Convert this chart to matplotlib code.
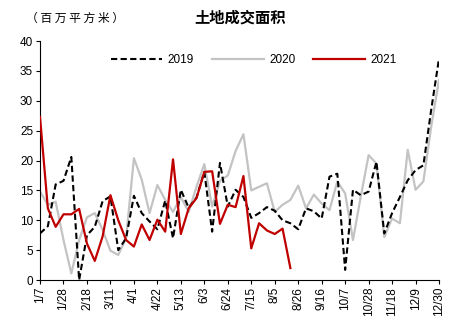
import numpy as np
import matplotlib
matplotlib.use('Agg')
import matplotlib.pyplot as plt

# weekly land transaction area (million m2)
tick_labels = ['1/7', '1/28', '2/18', '3/11', '4/1', '4/22', '5/13', '6/3', '6/24',
               '7/15', '8/5', '8/26', '9/16', '10/7', '10/28', '11/18', '12/9', '12/30']

y2019 = [7.8, 9.0, 16.0, 16.6, 20.6, 0.0, 7.5, 8.9, 13.2, 14.0,
         5.0, 7.0, 14.1, 11.2, 9.8, 8.5, 13.3, 7.0, 15.1, 12.1,
         13.8, 18.1, 8.1, 19.6, 12.3, 15.1, 13.9, 10.4, 11.2, 12.2,
         11.6, 10.0, 9.5, 8.5, 12.0, 11.5, 10.3, 17.3, 17.8, 1.7,
         15.1, 14.2, 14.8, 19.8, 7.8, 11.2, 13.9, 16.7, 18.4, 19.2,
         28.5, 37.1]

y2020 = [14.8, 12.6, 13.1, 6.7, 1.1, 6.7, 10.5, 11.2, 8.4, 4.9,
         4.2, 7.0, 20.4, 16.8, 11.2, 15.9, 13.4, 11.4, 13.9, 11.4,
         15.6, 19.4, 12.3, 16.6, 17.5, 21.6, 24.4, 15.0, 15.6, 16.2,
         11.4, 12.6, 13.4, 15.8, 12.0, 14.3, 12.8, 11.7, 16.5, 14.5,
         6.7, 14.0, 20.9, 19.5, 7.2, 10.3, 9.5, 21.8, 15.1, 16.5,
         25.7, 33.5]

y2021 = [27.3, 12.0, 8.9, 11.0, 11.0, 11.9, 6.1, 3.2, 7.3, 14.2,
         10.0, 6.7, 5.6, 9.3, 6.7, 10.1, 8.1, 20.2, 7.7, 12.0,
         13.7, 18.1, 18.2, 9.4, 12.6, 12.2, 17.4, 5.3, 9.5, 8.3,
         7.7, 8.6, 2.0]

plt.rcParams['font.family'] = ['Liberation Sans', 'Noto Sans CJK SC', 'DejaVu Sans']
plt.rcParams['font.size'] = 8.5

fig = plt.figure(figsize=(4.77, 3.31), dpi=100)
ax = fig.add_axes([0.0839, 0.154, 0.8365, 0.722])

ax.plot(np.arange(len(y2019)), y2019, color='black', lw=1.5,
        linestyle=(0, (3, 1.6)), label='2019', zorder=3)
ax.plot(np.arange(len(y2020)), y2020, color='#C3C3C3', lw=1.6,
        label='2020', zorder=2)
ax.plot(np.arange(len(y2021)), y2021, color='#C00000', lw=1.6,
        label='2021', zorder=4)

ax.set_xlim(0, 51)
ax.set_ylim(0, 40)
ax.set_yticks(range(0, 41, 5))
ax.set_xticks(range(0, 52, 3))
ax.set_xticklabels(tick_labels, rotation=90)
ax.tick_params(axis='both', length=3, width=0.8, labelsize=8.5, pad=2)
for s in ['top', 'right']:
    ax.spines[s].set_visible(False)

ax.legend(loc='center', bbox_to_anchor=(0.535, 0.92), ncol=3, frameon=False,
          handlelength=4.4, handletextpad=0.45, columnspacing=1.5, fontsize=8.5)

fig.text(240 / 477, 1 - 18 / 331, '土地成交面积', ha='center', va='center',
         fontsize=11, fontweight='bold', family=['Noto Sans CJK SC'])
fig.text(26 / 477, 1 - 18 / 331, '（ 百 万 平 方 米 ）', ha='left', va='center',
         fontsize=8.5, family=['Noto Sans CJK SC'])

fig.savefig('out.png', dpi=100)
